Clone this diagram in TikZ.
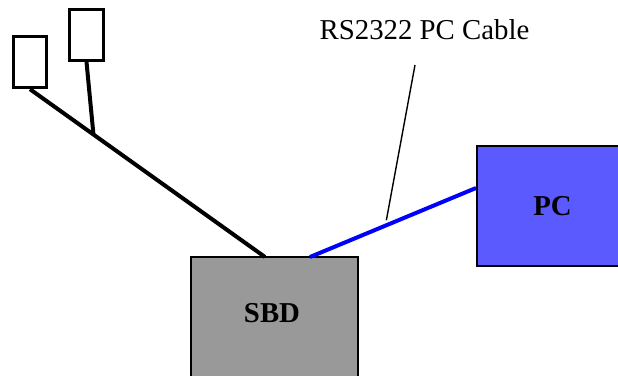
\documentclass[tikz,border=0pt]{standalone}
\usepackage{fontspec}
\setmainfont{Liberation Serif}
\definecolor{sbdgray}{RGB}{153,153,153}
\definecolor{pcblue}{RGB}{90,90,255}
\tikzset{
  probe/.style={draw, line width=1.7pt, fill=white, inner sep=0pt},
  wire/.style={line width=2pt},
  cable/.style={line width=2pt, blue},
  unit/.style={draw, line width=1pt, inner sep=0pt, font=\fontsize{14.4}{17}\selectfont\bfseries}
}
\begin{document}
\begin{tikzpicture}[x=0.5pt, y=-0.5pt]

% page frame
\clip (0,0) rectangle (618,376);

% draw the two probes
\node (probeA) [probe, minimum width=16.25pt, minimum height=25.5pt] at (30,62) {};
\node (probeB) [probe, minimum width=16.75pt, minimum height=25.25pt] at (86.5,35) {};

% draw the boxes
\node (sbd) [unit, fill=sbdgray, minimum width=83.5pt, minimum height=75pt] at (274.5,332) {};
\node (sbdlabel) at (272,313) [font=\fontsize{14.4}{17}\selectfont\bfseries] {SBD};
\node (pc) [unit, fill=pcblue, minimum width=75.5pt, minimum height=60pt] at (552.5,206) {PC};

\coordinate (sbdin) at (265,257);
\coordinate (sbdout) at (310,257);
\coordinate (pcin) at (pc.west |- 0,188);

% draw probe wires
\draw [wire] (probeA.south) -- (sbdin) coordinate[pos=0.27] (fork);
\draw [wire] (probeB.south) -- (fork);

% draw pc cable and its label
\draw [cable] (sbdout) -- (pcin) coordinate[pos=0.46] (tap);
\node (cablelabel) [anchor=base, font=\fontsize{14.4}{17}\selectfont] at (424.5,39) {RS2322 PC Cable};
\coordinate (callout) at (415,65);
\draw [line width=0.7pt] (callout) -- ([yshift=2.5]tap);

\end{tikzpicture}
\end{document}
